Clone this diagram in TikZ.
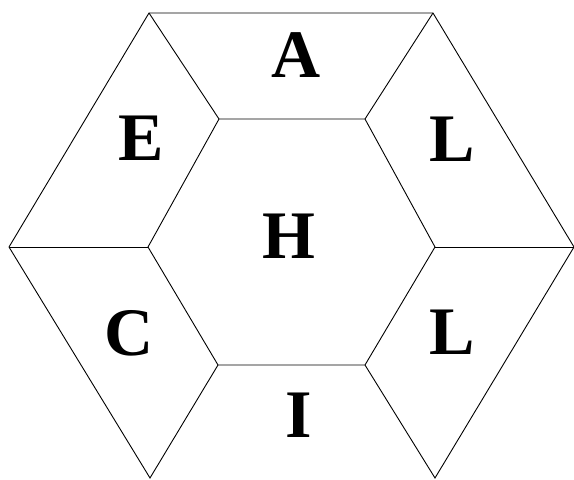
\documentclass[tikz,border=0pt]{standalone}
\usepackage{fontspec}
\setmainfont{Liberation Serif}

\begin{document}
\begin{tikzpicture}[x=1pt, y=-1pt,
    edge/.style={line width=0.9pt, line join=miter},
    letter/.style={font=\fontsize{68}{68}\selectfont\bfseries, inner sep=0pt}
]
\useasboundingbox (0,0) rectangle (574,480);

% outer ring
\coordinate (otl) at (149,13);
\coordinate (otr) at (433,13);
\coordinate (ol) at (9,247);
\coordinate (or) at (574,247);
\coordinate (obl) at (150,478);
\coordinate (obr) at (435,478);

% inner hexagon
\coordinate (itl) at (219,119);
\coordinate (itr) at (365,119);
\coordinate (il) at (148,247);
\coordinate (ir) at (435,247);
\coordinate (ibl) at (218,365);
\coordinate (ibr) at (365,365);

\draw[edge] (itl) -- (itr) -- (ir) -- (ibr) -- (ibl) -- (il) -- cycle;
\draw[edge] (ol) -- (otl) -- (otr) -- (or);
\draw[edge] (itl) -- (otl);
\draw[edge] (itr) -- (otr);
\draw[edge] (ol) -- (il);
\draw[edge] (ir) -- (or);
\draw[edge] (ol) -- (obl) -- (ibl);
\draw[edge] (ibr) -- (obr) -- (or);

\node[letter] (a) at (296,55) {A};
\node[letter] (e) at (141,138) {E};
\node[letter] (l1) at (452,139) {L};
\node[letter] (h) at (289,236) {H};
\node[letter] (c) at (129,333) {C};
\node[letter] (l2) at (452,332) {L};
\node[letter] (i) at (299,415) {I};
\end{tikzpicture}
\end{document}
